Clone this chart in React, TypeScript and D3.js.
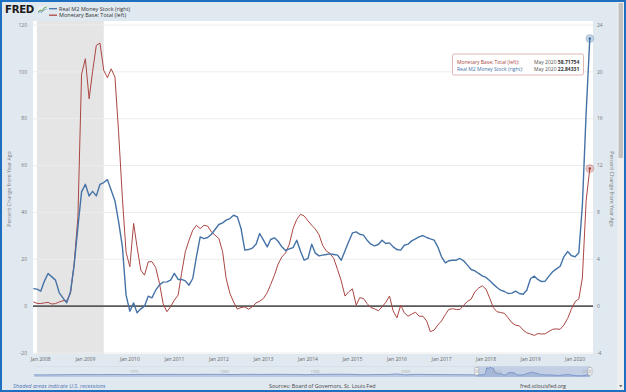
import React from "react";
import * as d3 from "d3";

// Monthly data, Nov 2007 .. May 2020
const startMonth = "2007-11-01";
const monetaryBase: number[] = [
  1.8, 1.2, 1.1, 1.4, 1.6, 0.9, 1.1, 1.8, 2.3, 2.4,
  5.4, 18, 38, 99, 105.6, 88.5, 100, 111.3, 112.3, 100.6,
  97.5, 101.3, 97.8, 74, 46, 23, 16.8, 35.3, 25.3, 15.4,
  13.2, 18.9, 19, 16.5, 9.7, 1.1, -2.4, -0.3, 2.6, 4.7,
  13.9, 23.2, 28.1, 32.4, 34.5, 33.1, 34.5, 34.2, 31.7, 30.3,
  28.9, 23.2, 11.8, 5.4, 1.8, -1.3, -0.6, -0.3, -1.3, -0.3,
  1.4, 2.1, 3.3, 5.8, 9.2, 13.2, 17.9, 21, 22.7, 26.4,
  33.1, 37, 39.2, 38.5, 36.4, 34.5, 33, 30.6, 26, 23.5,
  22.5, 20.3, 15.6, 10.8, 4.3, 6.1, 7.4, 0.4, 3.6, 3.3,
  1.1, -0.6, -1.1, -2, -0.3, 1.6, 4.3, -2, -5, 0.4,
  -2.8, -4.3, -3.4, -2.6, -4.3, -4.3, -6.4, -10.9, -10.2, -8.1,
  -6.3, -3.6, -1.4, -1.1, -1.4, -1.4, 0.4, 2, 3, 6.1,
  7.7, 8.7, 7.2, 3.3, -0.6, -2.4, -2.7, -3.1, -5, -7.1,
  -8.1, -8.4, -10.2, -11.4, -11.9, -12.5, -11.7, -11.9, -11.8, -10.8,
  -9.9, -9.7, -9.9, -8.1, -5.3, -1.4, 1.9, 3.1, 12, 45,
  58.71754,
];
const realM2: number[] = [
  1.5, 1.45, 1.28, 2.16, 2.79, 2.5, 2.22, 1.14, 0.71, 0.28,
  1.22, 3.5, 6.77, 9.75, 10.4, 9.41, 9.8, 9.41, 10.4, 10.55,
  10.8, 9.9, 8.98, 7.2, 5.06, 0.94, -0.43, 0.28, -0.57, -0.23,
  0, 0.85, 0.71, 1.36, 1.82, 2.05, 2.07, 2.22, 2.79, 2.28,
  2.28, 2.16, 1.79, 2.36, 4.21, 5.91, 5.77, 5.86, 6.14, 6.54,
  6.97, 7.11, 7.34, 7.48, 7.76, 7.62, 6.63, 4.78, 4.83, 4.95,
  5.29, 6.2, 5.63, 5.06, 5.69, 5.83, 5.54, 5.06, 4.75, 4.89,
  5.0, 5.63, 4.69, 3.92, 4.07, 5.29, 4.55, 4.29, 4.35, 4.41,
  4.46, 4.41, 4.35, 3.92, 4.72, 5.49, 6.25, 6.34, 6.14, 6.06,
  5.63, 5.29, 5.15, 5.26, 5.63, 5.35, 5.4, 5.06, 4.83, 4.78,
  5.2, 5.29, 5.57, 5.74, 5.91, 6.03, 5.86, 5.74, 5.63, 5.06,
  4.21, 3.7, 3.87, 3.92, 3.92, 4.07, 3.87, 3.5, 3.13, 3.01,
  2.79, 2.59, 2.45, 2.16, 1.88, 1.59, 1.36, 1.25, 1.08, 1.11,
  1.28, 1.08, 1.02, 1.36, 2.36, 2.56, 2.28, 2.1, 2.13, 2.56,
  2.93, 3.18, 3.41, 4.21, 4.66, 4.32, 4.21, 4.55, 8.6, 16.5,
  22.84331,
];
// Navigator history (annual, monetary base % change), 1959..2007
const navYears: number[] = d3.range(1959, 2008);
const navEarly: number[] = [
  1, 0.5, 2, 3, 4.5, 5, 5.5, 4.5, 6, 6.5,
  5, 6, 7.5, 7.5, 8, 8.5, 7.5, 7.5, 8, 9,
  8, 8.5, 5, 8, 9, 7, 8.5, 9.5, 8, 7,
  3.5, 8, 9, 10, 10.5, 8.5, 4, 4, 6, 7,
  15, 1, 9, 7.5, 6, 5, 4, 3.5, 2,
];
const recessionStart = "2007-12-01";
const recessionEnd = "2009-06-01";
const xTickYears: number[] = d3.range(2008, 2021);
const leftTicks: number[] = [-20, 0, 20, 40, 60, 80, 100, 120];
const rightTicks: number[] = [-4, 0, 4, 8, 12, 16, 20, 24];
const navLabelYears: number[] = [1970, 1980, 1990, 2000, 2010, 2020];

const BLUE = "#4572a7";
const RED = "#aa4643";
const FONT = "'Open Sans', 'DejaVu Sans', sans-serif";

export default function App() {
  const W = 626, H = 392;
  const start = new Date(startMonth + "T00:00:00");
  const dates = monetaryBase.map((_, i) => d3.timeMonth.offset(start, i));
  const x = d3.scaleTime().domain([dates[0], dates[dates.length - 1]]).range([33.3, 589.8]);
  const yL = d3.scaleLinear().domain([-20, 120]).range([353, 25]);
  const yR = d3.scaleLinear().domain([-4, 24]).range([353, 25]);

  const lineL = d3.line<number>().x((_, i) => x(dates[i])).y((d) => yL(d));
  const lineR = d3.line<number>().x((_, i) => x(dates[i])).y((d) => yR(d));

  // navigator
  const navX = d3.scaleTime().domain([new Date(1959, 0, 1), new Date(2020, 4, 1)]).range([34, 590]);
  const navY = d3.scaleLinear().domain([-30, 115]).range([377, 367]);
  const navPts: [Date, number][] = [
    ...navYears.map((yr, i) => [new Date(yr, 0, 1), navEarly[i]] as [Date, number]),
    ...monetaryBase.map((v, i) => [dates[i], v] as [Date, number]),
  ];
  const navArea = d3.area<[Date, number]>().x((d) => navX(d[0])).y0(377).y1((d) => navY(d[1]));
  const navLine = d3.line<[Date, number]>().x((d) => navX(d[0])).y((d) => navY(d[1]));
  const selX0 = navX(dates[0]);
  const selX1 = navX(dates[dates.length - 1]);

  const last = dates.length - 1;
  const rx0 = x(new Date(recessionStart + "T00:00:00"));
  const rx1 = x(new Date(recessionEnd + "T00:00:00"));

  return (
    <svg width={W} height={H} style={{ position: "absolute", left: 0, top: 0, fontFamily: FONT }}>
      <rect x={0} y={0} width={W} height={H} fill="#e1e9f0" />
      {/* plot background */}
      <rect x={33} y={21} width={560} height={333} fill="#ffffff" />
      <rect x={rx0} y={21} width={rx1 - rx0} height={333} fill="#e5e5e5" />
      {leftTicks.map((t) => (
        <line key={"g" + t} x1={33} x2={593} y1={yL(t)} y2={yL(t)} stroke="#ececec" strokeWidth={1} />
      ))}
      <line x1={33} x2={593} y1={yL(0)} y2={yL(0)} stroke="#5a5a5a" strokeWidth={1.6} />
      {/* series */}
      <path d={lineL(monetaryBase) || ""} fill="none" stroke={RED} strokeWidth={1} strokeLinejoin="round" />
      <path d={lineR(realM2) || ""} fill="none" stroke={BLUE} strokeWidth={1.4} strokeLinejoin="round" />
      <circle cx={x(dates[last])} cy={yL(monetaryBase[last])} r={4} fill={RED} fillOpacity={0.3} stroke={RED} strokeOpacity={0.4} strokeWidth={0.6} />
      <circle cx={x(dates[last])} cy={yL(monetaryBase[last])} r={1.3} fill={RED} />
      <circle cx={x(dates[last])} cy={yR(realM2[last])} r={4} fill={BLUE} fillOpacity={0.3} stroke={BLUE} strokeOpacity={0.4} strokeWidth={0.6} />
      <circle cx={x(dates[last])} cy={yR(realM2[last])} r={1.3} fill={BLUE} />

      {/* tooltip */}
      <rect x={452.5} y={54} width={131} height={21} rx={1.5} fill="#ffffff" fillOpacity={0.95} stroke="#d9a3a3" strokeWidth={0.8} />
      <text x={457} y={63.5} fontSize={5} fill={RED}>Monetary Base; Total (left):</text>
      <text x={534} y={63.5} fontSize={5} fill="#555">May 2020 <tspan fontWeight="bold" fill="#333">{monetaryBase[last].toFixed(5)}</tspan></text>
      <text x={457} y={71} fontSize={5} fill={BLUE}>Real M2 Money Stock (right):</text>
      <text x={534} y={71} fontSize={5} fill="#555">May 2020 <tspan fontWeight="bold" fill="#333">{realM2[last].toFixed(5)}</tspan></text>

      {/* axes labels */}
      {leftTicks.map((t) => (
        <text key={"l" + t} x={27} y={yL(t) + 1.7} fontSize={5} fill="#777" textAnchor="end">{t}</text>
      ))}
      {rightTicks.map((t) => (
        <text key={"r" + t} x={597} y={yR(t) + 1.7} fontSize={5} fill="#777" textAnchor="start">{t}</text>
      ))}
      {xTickYears.map((yr) => (
        <text key={"x" + yr} x={x(new Date(yr, 0, 1))} y={361} fontSize={5} fill="#666" textAnchor="middle">{"Jan " + yr}</text>
      ))}
      <text transform="translate(11,189) rotate(-90)" fontSize={5.3} fill="#777" textAnchor="middle">Percent Change from Year Ago</text>
      <text transform="translate(610,189) rotate(90)" fontSize={5.3} fill="#777" textAnchor="middle">Percent Change from Year Ago</text>

      {/* navigator */}
      <line x1={34} x2={590} y1={366.5} y2={366.5} stroke="#d0d8e2" strokeWidth={0.6} />
      <path d={navArea(navPts) || ""} fill="#b7c7e0" fillOpacity={0.9} />
      <path d={navLine(navPts) || ""} fill="none" stroke="#5f80bb" strokeWidth={0.7} />
      <rect x={selX0} y={366.5} width={selX1 - selX0} height={10.5} fill="#6685c2" fillOpacity={0.25} />
      {navLabelYears.map((yr) => (
        <text key={"n" + yr} x={navX(new Date(yr, 0, 1))} y={373} fontSize={4} fill="#aaa" textAnchor="middle">{yr}</text>
      ))}
      {[selX0, selX1].map((hx, i) => (
        <g key={"h" + i}>
          <rect x={hx - 2} y={367.5} width={4} height={7.5} rx={0.8} fill="#f2f2f2" stroke="#999" strokeWidth={0.5} />
          <line x1={hx - 0.6} x2={hx - 0.6} y1={369.5} y2={373} stroke="#999" strokeWidth={0.4} />
          <line x1={hx + 0.6} x2={hx + 0.6} y1={369.5} y2={373} stroke="#999" strokeWidth={0.4} />
        </g>
      ))}

      {/* header */}
      <text x={5} y={13.3} fontSize={10.2} fontWeight={900} fill="#1a1a1a" fontFamily="'DejaVu Sans', sans-serif" letterSpacing={-0.3}>FRED</text>
      <g>
        <rect x={37.5} y={6} width={9} height={7} fill="#e9eef3" />
        <polyline points="38,12 40,10 42,11 44,8 46.5,7" fill="none" stroke="#5b9b3b" strokeWidth={0.9} />
        <polyline points="38,13 40,11.5 42,12.5 44,10 46.5,9" fill="none" stroke="#3d7dbf" strokeWidth={0.6} />
      </g>
      <line x1={49} x2={57} y1={8.7} y2={8.7} stroke={BLUE} strokeWidth={1.3} />
      <text x={59} y={10.5} fontSize={5.5} fill="#333">Real M2 Money Stock (right)</text>
      <line x1={49} x2={57} y1={15.2} y2={15.2} stroke={RED} strokeWidth={1.3} />
      <text x={59} y={17} fontSize={5.5} fill="#333">Monetary Base; Total (left)</text>

      {/* footer */}
      <text x={13} y={388} fontSize={5.6} fill="#4f73b0" fontStyle="italic">Shaded areas indicate U.S. recessions</text>
      <text x={269} y={388} fontSize={5.4} fill="#444">Sources: Board of Governors, St. Louis Fed</text>
      <text x={520} y={388} fontSize={5.4} fill="#444">fred.stlouisfed.org</text>

      {/* scrollbar */}
      <rect x={617} y={0} width={7} height={H} fill="#eeeeee" />
      <rect x={618.5} y={3} width={4.5} height={155} fill="#c1c1c1" />
      <path d="M 619 385 L 622.5 385 L 620.75 387.5 Z" fill="#777" />

      {/* frame */}
      <rect x={1} y={1} width={W - 2} height={H - 2} fill="none" stroke="#1f6fc0" strokeWidth={2} />
    </svg>
  );
}
